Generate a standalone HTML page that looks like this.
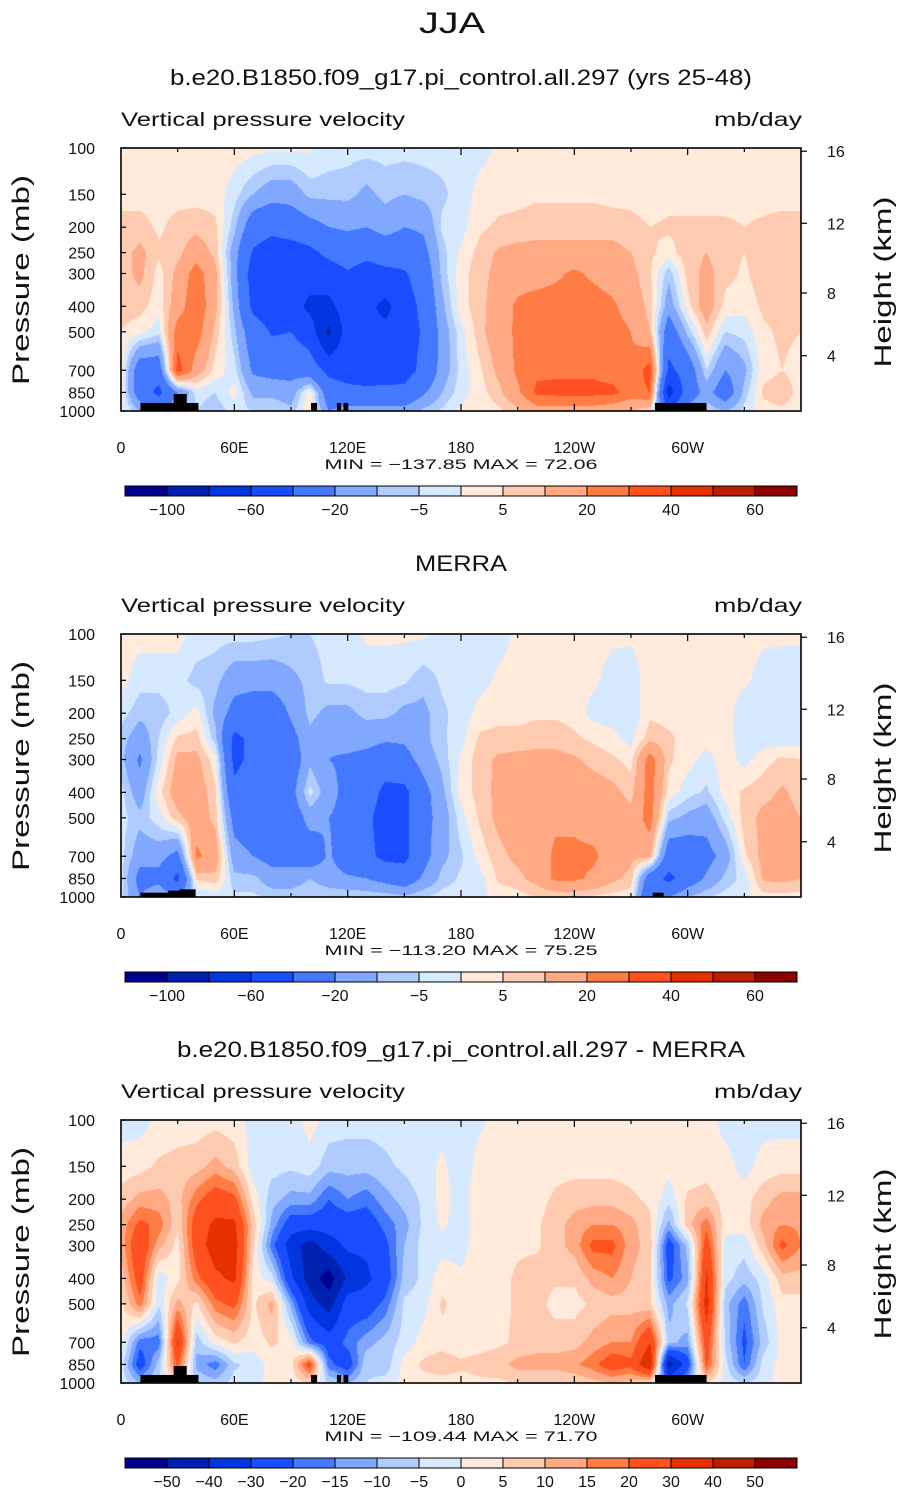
<!DOCTYPE html>
<html><head><meta charset="utf-8">
<style>
html,body{margin:0;padding:0;background:#fff;}
#wrap{position:relative;width:905px;height:1493px;overflow:hidden;background:#fff;}
canvas{position:absolute;}
svg{position:absolute;left:0;top:0;}
text{font-family:"Liberation Sans",sans-serif;fill:#111;}
</style></head>
<body>
<div id="wrap">
<canvas id="c1" width="680" height="263" style="left:121px;top:148px"></canvas>
<canvas id="c2" width="680" height="263" style="left:121px;top:634px"></canvas>
<canvas id="c3" width="680" height="263" style="left:121px;top:1120px"></canvas>
<svg id="ov" width="905" height="1493" xmlns="http://www.w3.org/2000/svg">
<text x="452" y="33" font-size="30" text-anchor="middle" textLength="66" lengthAdjust="spacingAndGlyphs">JJA</text>
</svg>
</div>
<script>
// ---- data ----
const lons = [0,10,20,30,40,50,60,70,80,90,100,110,120,130,140,150,160,170,180,190,200,210,220,230,240,250,260,270,280,290,300,310,320,330,340,350,360];
const plevs = [100,150,200,250,300,400,500,700,850,1000];
const levelsFull = [-100,-80,-60,-40,-20,-10,-5,0,5,10,20,30,40,50,60];
const levelsDiff = [-50,-40,-30,-20,-15,-10,-5,0,5,10,15,20,30,40,50];
const palette = ["#00008f","#0020b0","#0035e0","#1a4dff","#4478ff","#80a8ff","#b0ccff","#d6e9ff","#ffeadb","#ffcbb0","#ffaa85","#ff7c45","#ff5020","#e63000","#bb1e00","#8c0000"];
const heightTicks = [4,8,12,16];
const lonTickLabels = ["0","60E","120E","180","120W","60W"];
const lonTickValues = [0,60,120,180,240,300];

const modelVals = [
[2,3,7,7,7,7,5,3,3,2],[2,3,7,12,12,7,2,-30,-30,-10],[2,3,4,6,3,2,-3,-30,-45,-20],[2,3,7,8,12,15,25,35,-20,-10],
[2,3,8,15,25,28,25,15,-3,-5],[2,3,6,8,12,12,8,3,-5,-8],[3,-3,-8,-15,-15,-12,-8,-3,2,-3],[2,-10,-30,-42,-50,-45,-30,-22,-12,-5],
[1,-15,-35,-50,-55,-50,-42,-25,-12,-5],[1,-15,-30,-50,-50,-50,-40,-25,-15,-8],[1,-8,-25,-45,-50,-65,-50,-30,3,5],[-2,-8,-20,-35,-50,-65,-85,-45,-30,-20],
[-3,-8,-18,-30,-42,-50,-50,-48,-35,-15],[-3,-12,-20,-35,-48,-55,-55,-52,-35,-15],[-3,-8,-15,-30,-45,-65,-55,-50,-35,-15],[-3,-10,-20,-30,-42,-50,-50,-48,-35,-15],
[-3,-8,-18,-25,-30,-35,-38,-35,-22,-8],[-3,-6,-4,-7,-8,-12,-15,-15,-10,-4],[-3,-3,-2,1,3,3,-2,-3,-2,1],[-2,2,4,7,8,8,8,4,3,2],
[1,3,6,11,12,14,15,12,8,4],[2,3,7,12,15,22,22,22,18,8],[2,4,8,12,15,25,25,28,32,15],[2,4,8,12,18,25,25,28,33,15],
[2,4,8,12,22,25,25,28,33,15],[2,4,8,12,18,25,25,28,33,15],[2,3,8,12,15,22,25,25,33,12],[2,3,7,10,12,15,20,22,25,10],
[2,2,5,6,6,8,10,35,30,5],[2,3,6,3,-8,-15,-30,-45,-70,-40],[2,3,6,8,7,3,-8,-30,-30,-15],[2,3,6,10,12,15,8,-5,-15,-5],
[2,3,6,7,7,3,-5,-20,-30,-10],[2,3,5,5,4,2,-3,-12,-8,-3],[2,3,6,8,8,6,4,3,6,3],[2,3,7,8,8,7,6,5,8,4],[2,3,7,7,7,7,5,3,3,2]];

const merraVals = [
[2,2,-3,-7,-8,-3,-3,-3,-3,-3],[2,-3,-8,-15,-22,-15,-8,-15,-25,-20],[2,-3,-8,-5,-3,3,-2,-15,-25,-10],[2,-3,-3,6,12,15,8,-25,-45,-20],
[-2,-7,2,7,12,15,15,22,6,-5],[-3,-8,-12,-8,2,6,8,15,8,-3],[-3,-15,-25,-45,-45,-35,-25,-15,-8,-4],[-3,-15,-30,-35,-35,-30,-30,-20,-8,-4],
[-4,-15,-30,-35,-35,-35,-30,-25,-15,-6],[-5,-12,-18,-25,-30,-25,-30,-25,-15,-6],[-5,-8,-8,-12,-12,-3,-15,-30,-10,-5],[-3,-4,-12,-18,-20,-15,-20,-18,-15,-5],
[-3,-4,-12,-15,-22,-25,-25,-30,-18,-5],[1,-3,-8,-15,-25,-30,-35,-35,-20,-5],[1,-3,-8,-18,-30,-45,-50,-45,-25,-6],[1,-4,-12,-18,-25,-45,-45,-45,-30,-8],
[1,-8,-12,-12,-15,-25,-25,-25,-18,-5],[-2,-4,-6,-6,-8,-12,-15,-12,-8,-3],[-3,-3,-3,-2,1,2,-2,-6,-4,-2],[-3,-2,2,6,8,7,6,2,-2,-2],
[-2,1,3,7,11,12,12,8,6,2],[1,2,3,7,12,14,14,12,8,3],[2,3,4,8,12,15,15,14,13,5],[2,3,4,8,12,15,18,22,22,5],
[2,2,3,6,11,15,18,22,22,5],[2,1,-2,4,8,14,15,22,18,4],[1,-2,-3,2,6,12,15,15,12,3],[1,-3,-4,-2,3,8,12,12,8,2],
[2,3,4,8,25,25,25,12,-30,-40],[2,3,3,6,6,3,-8,-30,-45,-20],[2,3,3,3,2,-3,-12,-30,-30,-10],[2,3,3,2,-2,-6,-15,-25,-18,-5],
[2,2,2,3,3,2,-3,-15,-8,-3],[2,1,-3,-4,-2,6,7,4,-3,-2],[1,-2,-4,-3,3,8,12,12,11,3],[1,-3,-5,-3,6,11,12,12,12,3],[1,-3,-4,-3,5,8,10,10,10,3]];

const diffVals = [
[-2,2,7,12,12,7,3,3,-2,-2],[-2,3,12,22,28,25,18,-18,-25,-10],[1,6,12,18,12,-3,-4,-18,-8,-5],[2,7,8,6,3,3,12,32,22,5],
[2,8,18,25,25,18,4,-8,-12,-5],[3,12,25,32,35,28,18,2,-18,-8],[2,8,22,32,35,32,22,6,-6,-3],[-2,-3,3,8,6,3,4,2,-3,-2],
[-2,-3,-8,-12,-18,-3,12,6,2,2],[-2,-4,-12,-25,-35,-28,-12,3,3,2],[2,-2,-12,-25,-45,-45,-35,-18,25,5],[-2,-8,-20,-25,-35,-55,-45,-25,-18,-5],
[-3,-8,-15,-25,-28,-38,-25,-18,-25,-10],[-3,-8,-18,-25,-28,-32,-25,-12,-6,-5],[-3,-6,-12,-18,-22,-25,-18,-8,-8,-3],[-3,-4,-8,-12,-10,-8,-4,-3,2,2],
[-3,-2,-4,-4,-3,-4,-2,2,6,3],[-2,1,2,1,-2,3,6,3,8,3],[-2,-3,-2,-3,-2,1,2,2,6,3],[-1,2,3,3,3,3,3,3,7,4],
[2,3,3,3,3,3,3,4,8,4],[2,3,3,4,4,6,6,6,12,5],[2,3,3,4,4,8,7,8,12,5],[2,3,6,8,8,6,3,8,12,5],
[2,3,8,12,12,6,3,8,14,6],[2,3,8,15,22,12,6,12,18,8],[2,3,8,15,22,15,8,15,25,10],[2,3,6,12,12,10,8,15,22,8],
[2,2,4,6,8,6,6,30,40,5],[2,2,-3,-12,-25,-22,-12,-8,-45,-20],[2,2,6,8,-8,-12,-4,-12,-25,-10],[2,3,7,18,25,32,35,25,22,5],
[-2,2,3,2,-2,-3,-8,-6,-3,-2],[-2,-2,3,2,-3,-8,-18,-22,-20,-5],[-2,2,8,12,8,-3,-4,-8,-3,-2],[-2,3,12,15,22,8,3,2,2,2],[-2,3,12,14,15,8,3,2,2,2]];

// topography masks: [lonStart, lonEnd, topPressure]
const modelLand = [[10.3,41,932],[27.9,34.8,862],[100.6,103.8,932],[114.3,116.5,932],[117.8,120.2,932],[282.7,310,932]];
const merraLand = [[10.3,26,963],[25,33,946],[31,39.5,935],[281.5,287.3,963]];

// ---- layout ----
const PX0 = 121, PW = 680, PH = 263;
const panelTops = [148, 634, 1120];
function xOf(lon){ return PX0 + lon / 360 * PW; }
function yOf(p, top){ return top + PH * (Math.log10(p) - 2); }
function pOfHeight(km){ const z = km*1000; return z <= 11000 ? 1013.25*Math.pow(1-2.2558e-5*z,5.256) : 226.32*Math.exp(-(z-11000)/6341.6); }
function hexRgb(h){ return [parseInt(h.substr(1,2),16),parseInt(h.substr(3,2),16),parseInt(h.substr(5,2),16)]; }
const rgbPal = palette.map(hexRgb);
const logP = plevs.map(p=>Math.log10(p));

function sample(vals, lon, lp){
  let i = Math.min(lons.length-2, Math.max(0, Math.floor(lon/10)));
  let fx = (lon - lons[i]) / (lons[i+1]-lons[i]);
  let j = 0;
  while (j < plevs.length-2 && lp > logP[j+1]) j++;
  let fy = (lp - logP[j]) / (logP[j+1]-logP[j]);
  fy = Math.max(0, Math.min(1, fy));
  const a = vals[i][j], b = vals[i+1][j], c = vals[i][j+1], d = vals[i+1][j+1];
  return (a*(1-fx)+b*fx)*(1-fy) + (c*(1-fx)+d*fx)*fy;
}
function colorIdx(v, lev){ let k=0; while(k<lev.length && v>=lev[k]) k++; return k; }

function drawField(id, vals, lev){
  const cv = document.getElementById(id), ctx = cv.getContext('2d');
  const img = ctx.createImageData(PW, PH);
  for (let py=0; py<PH; py++){
    const lp = 2 + (py+0.5)/PH;
    for (let px=0; px<PW; px++){
      const lon = (px+0.5)/PW*360;
      const c = rgbPal[colorIdx(sample(vals, lon, lp), lev)];
      const o = (py*PW+px)*4;
      img.data[o]=c[0]; img.data[o+1]=c[1]; img.data[o+2]=c[2]; img.data[o+3]=255;
    }
  }
  ctx.putImageData(img,0,0);
}
drawField('c1', modelVals, levelsFull);
drawField('c2', merraVals, levelsFull);
drawField('c3', diffVals, levelsDiff);

// ---- overlay ----
const NS = "http://www.w3.org/2000/svg";
const svg = document.getElementById('ov');
function mk(tag, attrs, parent){
  const e = document.createElementNS(NS, tag);
  for (const k in attrs) e.setAttribute(k, attrs[k]);
  (parent||svg).appendChild(e); return e;
}
function txt(str, x, y, size, anchor, len, parent){
  const t = mk('text', {x:x, y:y, 'font-size':size, 'text-anchor':anchor||'start'}, parent);
  if (len){ t.setAttribute('textLength', len); t.setAttribute('lengthAdjust','spacingAndGlyphs'); }
  t.textContent = str; return t;
}

const titles = ["b.e20.B1850.f09_g17.pi_control.all.297 (yrs 25-48)", "MERRA", "b.e20.B1850.f09_g17.pi_control.all.297 - MERRA"];
const titleLens = [582, 92, 568];
const minmax = ["MIN = \u2212137.85   MAX =   72.06", "MIN = \u2212113.20   MAX =   75.25", "MIN = \u2212109.44   MAX =   71.70"];
const lands = [modelLand, merraLand, modelLand];
const levSets = [levelsFull, levelsFull, levelsDiff];

panelTops.forEach((top, k) => {
  const g = mk('g', {});
  
  
  const t = txt(titles[k], 461, top-63, 22, 'middle', titleLens[k], g);
  
  
  const vl = txt("Vertical pressure velocity", 121, top-22, 19, 'start', 284, g);
  
  
  const ul = txt("mb/day", 802, top-22, 19, 'end', 88, g);
  
  

  lands[k].forEach(L => {
    const r = mk('rect', {x:xOf(L[0]), y:yOf(L[2],top), width:xOf(L[1])-xOf(L[0]), height:top+PH-yOf(L[2],top), fill:'#000'}, g);
    
    
  });

  const fr = mk('rect', {x:PX0, y:top, width:PW, height:PH, fill:'none', stroke:'#000', 'stroke-width':1.6}, g);
  
  

  plevs.forEach(p => {
    const y = yOf(p, top);
    mk('line', {x1:PX0, x2:PX0+5, y1:y, y2:y, stroke:'#000', 'stroke-width':1.2}, g);
    const l = txt(String(p), 95, y+6, 16, 'end', null, g);
    
    
  });
  const yl = txt("Pressure (mb)", 0, 0, 24, 'middle', 210, g);
  yl.setAttribute('transform', 'translate(29,' + (top+132) + ') rotate(-90)');
  
  

  heightTicks.forEach(h => {
    const y = yOf(pOfHeight(h), top);
    mk('line', {x1:PX0+PW, x2:PX0+PW+6, y1:y, y2:y, stroke:'#000', 'stroke-width':1.2}, g);
    const l = txt(String(h), 827, y+6, 16, 'start', null, g);
    
    
  });
  const hl = txt("Height (km)", 0, 0, 24, 'middle', 171, g);
  hl.setAttribute('transform', 'translate(891,' + (top+134) + ') rotate(-90)');
  
  

  for (let lon = 30; lon < 360; lon += 30){
    const x = xOf(lon);
    const len = lon % 60 === 0 ? 7 : 4;
    mk('line', {x1:x, x2:x, y1:top, y2:top+len, stroke:'#000', 'stroke-width':1.2}, g);
    mk('line', {x1:x, x2:x, y1:top+PH, y2:top+PH-len, stroke:'#000', 'stroke-width':1.2}, g);
  }
  lonTickValues.forEach((lon, i) => {
    const l = txt(lonTickLabels[i], xOf(lon), top+PH+42, 16, 'middle', null, g);
    
    
  });
  const mm = txt(minmax[k], 461, top+PH+58, 14, 'middle', 273, g);
  
  

  const cbY = top + 338;
  palette.forEach((col, i) => {
    const r = mk('rect', {x:125+42*i, y:cbY, width:42, height:10, fill:col, stroke:'#000', 'stroke-width':1}, g);
    
    
  });
  const lev = levSets[k];
  lev.forEach((v, i) => {
    if (k < 2 && i % 2 === 1) return;
    const s = (v < 0 ? "\u2212" + (-v) : String(v));
    const l = txt(s, 167+42*i, cbY+29, 16, 'middle', null, g);
    
    
  });
});
</script>
</body></html>
